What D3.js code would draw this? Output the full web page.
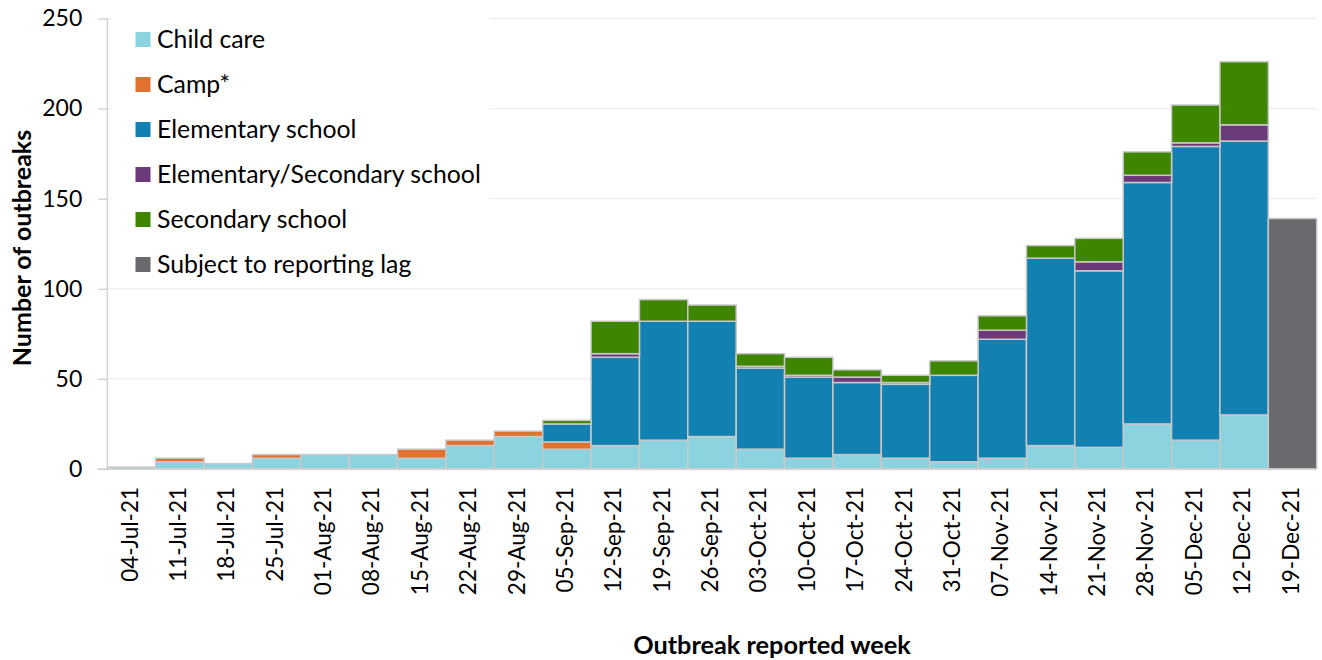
<!DOCTYPE html>
<html>
<head>
<meta charset="utf-8">
<script src="https://cdn.jsdelivr.net/npm/d3@7"></script>
<style>
  html, body { margin: 0; padding: 0; background: #fff; }
  svg { display: block; }
  text { font-family: Lato, "Open Sans", sans-serif; fill: #000; }
</style>
</head>
<body>
<svg id="chart" width="1322" height="660"></svg>
<script>
const weeks = ["04-Jul-21","11-Jul-21","18-Jul-21","25-Jul-21","01-Aug-21","08-Aug-21","15-Aug-21","22-Aug-21","29-Aug-21","05-Sep-21","12-Sep-21","19-Sep-21","26-Sep-21","03-Oct-21","10-Oct-21","17-Oct-21","24-Oct-21","31-Oct-21","07-Nov-21","14-Nov-21","21-Nov-21","28-Nov-21","05-Dec-21","12-Dec-21","19-Dec-21"];
const childCare  = [1,4,3,6,8,8,6,13,18,11,13,16,18,11,6,8,6,4,6,13,12,25,16,30,0];
const camp       = [0,2,0,2,0,0,5,3,3,4,0,0,0,0,0,0,0,0,0,0,0,0,0,0,0];
const elementary = [0,0,0,0,0,0,0,0,0,10,49,66,64,45,45,40,41,48,66,104,98,134,163,152,0];
const elemSec    = [0,0,0,0,0,0,0,0,0,0,2,0,0,1,1,3,1,0,5,0,5,4,2,9,0];
const secondary  = [0,0,0,0,0,0,0,0,0,2,18,12,9,7,10,4,4,8,8,7,13,13,21,35,0];
const lag        = [0,0,0,0,0,0,0,0,0,0,0,0,0,0,0,0,0,0,0,0,0,0,0,0,139];
const seriesNames = ["Child care","Camp*","Elementary school","Elementary/Secondary school","Secondary school","Subject to reporting lag"];
const seriesColors = ["#8ad3df","#e2702f","#1281b1","#6c3a7a","#3e8500","#696a6e"];
const yTicks = [0,50,100,150,200,250];

const seriesArrays = [childCare, camp, elementary, elemSec, secondary, lag];
const keys = seriesNames;
const rows = weeks.map((w,i) => {
  const r = {week: w};
  keys.forEach((k,j) => r[k] = seriesArrays[j][i]);
  return r;
});

const svg = d3.select("#chart");
const x = d3.scaleBand().domain(weeks).range([107.3, 1316.7]).padding(0);
const y = d3.scaleLinear().domain([0,250]).range([469, 18.5]);

// gridlines
svg.append("g").selectAll("line").data(yTicks.filter(d=>d>0)).join("line")
  .attr("x1", 107.3).attr("x2", 1316.7)
  .attr("y1", d=>y(d)).attr("y2", d=>y(d))
  .attr("stroke", "#ededed").attr("stroke-width", 1.3);

// stacked bars
const stack = d3.stack().keys(keys)(rows);
const g = svg.append("g");
stack.forEach((s, si) => {
  g.append("g").selectAll("rect").data(s.filter(d => d[1] - d[0] > 0)).join("rect")
    .attr("x", d => x(d.data.week))
    .attr("width", x.bandwidth())
    .attr("y", d => y(d[1]))
    .attr("height", d => y(d[0]) - y(d[1]))
    .attr("fill", seriesColors[si])
    .attr("stroke", "#c8c8c8")
    .attr("stroke-width", 1.5);
});

// y axis
const yAxis = d3.axisLeft(y).tickValues(yTicks).tickSize(9).tickPadding(16);
const ya = svg.append("g").attr("transform", "translate(107.3,0)").call(yAxis);
ya.select(".domain").attr("stroke", "#d0d0d0").attr("stroke-width", 1.3).attr("d", "M0,18.5V469");
ya.selectAll(".tick line").attr("stroke", "#d0d0d0").attr("stroke-width", 1.3);
ya.selectAll(".tick text").attr("font-size", 23).attr("font-family", "Lato").attr("fill", "#000");

// x axis
const xAxis = d3.axisBottom(x).tickSize(0).tickPadding(0);
const xa = svg.append("g").attr("transform", "translate(0,469)").call(xAxis);
xa.select(".domain").attr("stroke", "#d0d0d0").attr("stroke-width", 1.3).attr("d", "M97.3,0H1316.7");
xa.selectAll(".tick text")
  .attr("font-size", 22.5).attr("font-family", "Lato").attr("fill", "#000")
  .attr("text-anchor", "end")
  .attr("transform", "translate(-2,18) rotate(-90)")
  .attr("x", 0).attr("y", 0).attr("dy", "0.36em");

// legend
const leg = svg.append("g");
leg.append("rect").attr("x", 112).attr("y", 10).attr("width", 378).attr("height", 277).attr("fill", "#fff");
seriesNames.forEach((n, i) => {
  const cy = 39.5 + i * 45;
  leg.append("rect").attr("x", 135.5).attr("y", cy - 7.5).attr("width", 15).attr("height", 15)
    .attr("fill", seriesColors[i]);
  leg.append("text").attr("x", 157).attr("y", cy).attr("dy", "0.35em")
    .attr("font-size", 24.8).text(n);
});

// axis titles
svg.append("text").attr("transform", "translate(22,248) rotate(-90)")
  .attr("text-anchor", "middle").attr("dy", "0.35em")
  .attr("font-size", 25).attr("font-weight", "bold").text("Number of outbreaks");
svg.append("text").attr("x", 772).attr("y", 645).attr("dy", "0.35em")
  .attr("text-anchor", "middle").attr("font-size", 25.3).attr("font-weight", "bold")
  .text("Outbreak reported week");
</script>
</body>
</html>
